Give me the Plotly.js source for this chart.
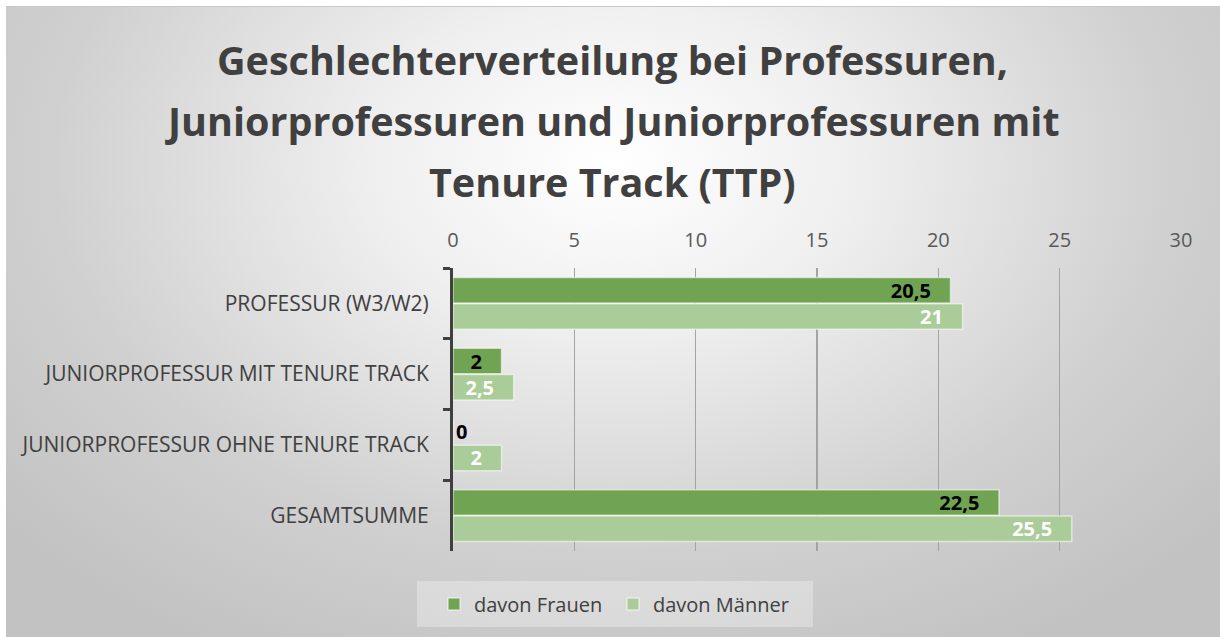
<!DOCTYPE html>
<html><head><meta charset="utf-8">
<script src="https://cdn.plot.ly/plotly-3.0.1.min.js"></script>
<style>
html,body{margin:0;padding:0;background:#fff;}
#bg{position:absolute;left:6px;top:6px;width:1214px;height:631px;border-top:1px solid #c8c8c8;box-sizing:border-box;
background:radial-gradient(ellipse 66% 88% at 50% 25%, #ffffff 0%, #efefef 30%, #d0d0d0 70%, #c2c2c2 100%);}
#chart{position:absolute;left:0;top:0;width:1220px;height:637px;}
</style></head>
<body>
<div id="bg"></div>
<div id="chart"></div>
<script>
const categories = ["PROFESSUR (W3/W2)", "JUNIORPROFESSUR MIT TENURE TRACK", "JUNIORPROFESSUR OHNE TENURE TRACK", "GESAMTSUMME"];
const frauen = [20.5, 2, 0, 22.5];
const maenner = [21, 2.5, 2, 25.5];
const seriesNames = ["davon Frauen", "davon Männer"];
const titleLines = ["Geschlechterverteilung bei Professuren,", "Juniorprofessuren und Juniorprofessuren mit", "Tenure Track (TTP)"];
const xTicks = [0, 5, 10, 15, 20, 25, 30];

const fmt = v => String(v).replace('.', ',');
const FONT = "Open Sans, DejaVu Sans, sans-serif";
const PAD = '\u2007\u00a0';

// plot area in pixels
const PL = 453, PR = 1181, PT = 268, PB = 551;
const px2x = p => (p - PL) / (PR - PL);
const px2y = p => (PB - p) / (PB - PT);

function barTrace(vals, name, color, txtColor){
  return {
    type: 'bar', orientation: 'h', name: name,
    y: categories, x: vals,
    text: vals.map(v => v === 0 ? fmt(v) : fmt(v) + PAD),
    textposition: vals.map(v => v === 0 ? 'outside' : 'inside'),
    insidetextanchor: 'end',
    textangle: 0,
    constraintext: 'none',
    cliponaxis: false,
    textfont: {family: FONT, size: 20, color: txtColor, weight: 'bold'},
    outsidetextfont: {family: FONT, size: 20, color: '#000', weight: 'bold'},
    marker: {color: color, line: {color: 'rgba(255,255,255,0.55)', width: 1.5}},
    hoverinfo: 'none'
  };
}

const data = [
  barTrace(frauen, seriesNames[0], '#70a453', '#000000'),
  barTrace(maenner, seriesNames[1], '#a9cc98', '#ffffff')
];

const annotations = titleLines.map((t, i) => ({
  text: '<b>' + t + '</b>', xref: 'paper', yref: 'paper',
  x: px2x(612), y: px2y(60 + i * 61),
  xanchor: 'center', yanchor: 'middle', showarrow: false,
  font: {family: FONT, size: 39.5, color: '#404040'}
}));

const layout = {
  width: 1220, height: 637,
  paper_bgcolor: 'rgba(0,0,0,0)', plot_bgcolor: 'rgba(0,0,0,0)',
  margin: {l: PL, r: 1220 - PR, t: PT, b: 637 - PB},
  barmode: 'group', bargap: 0.26, bargroupgap: 0.03,
  showlegend: true,
  font: {family: FONT, color: '#404040'},
  annotations: annotations,
  shapes: [{
    type: 'rect', xref: 'paper', yref: 'paper', layer: 'below',
    x0: px2x(417), x1: px2x(813), y0: px2y(627), y1: px2y(581),
    fillcolor: 'rgba(255,255,255,0.3)', line: {width: 0}
  }],
  xaxis: {
    side: 'top', range: [0, 30], tickvals: xTicks, ticktext: xTicks.map(String),
    showgrid: true, gridcolor: '#a3a3a3', gridwidth: 1.5, zeroline: false,
    showline: false, ticks: '', ticklabelstandoff: 16,
    tickfont: {family: FONT, size: 20, color: '#595959'}, fixedrange: true
  },
  yaxis: {
    type: 'category', autorange: 'reversed',
    showline: true, linecolor: '#404040', linewidth: 3,
    ticks: 'outside', tickson: 'boundaries', ticklen: 7, tickwidth: 3, tickcolor: '#404040',
    ticklabelstandoff: 17,
    tickfont: {family: FONT, size: 21, color: '#404040'}, showgrid: false, fixedrange: true
  },
  legend: {
    orientation: 'h', xref: 'container', yref: 'container',
    x: 613 / 1220, xanchor: 'center', y: 1 - 604 / 637, yanchor: 'middle',
    bgcolor: 'rgba(0,0,0,0)', borderwidth: 0,
    font: {family: FONT, size: 20, color: '#404040'},
    itemwidth: 30, entrywidth: 134, entrywidthmode: 'pixels'
  }
};

Plotly.newPlot('chart', data, layout, {displayModeBar: false, staticPlot: true});
</script>
</body></html>
